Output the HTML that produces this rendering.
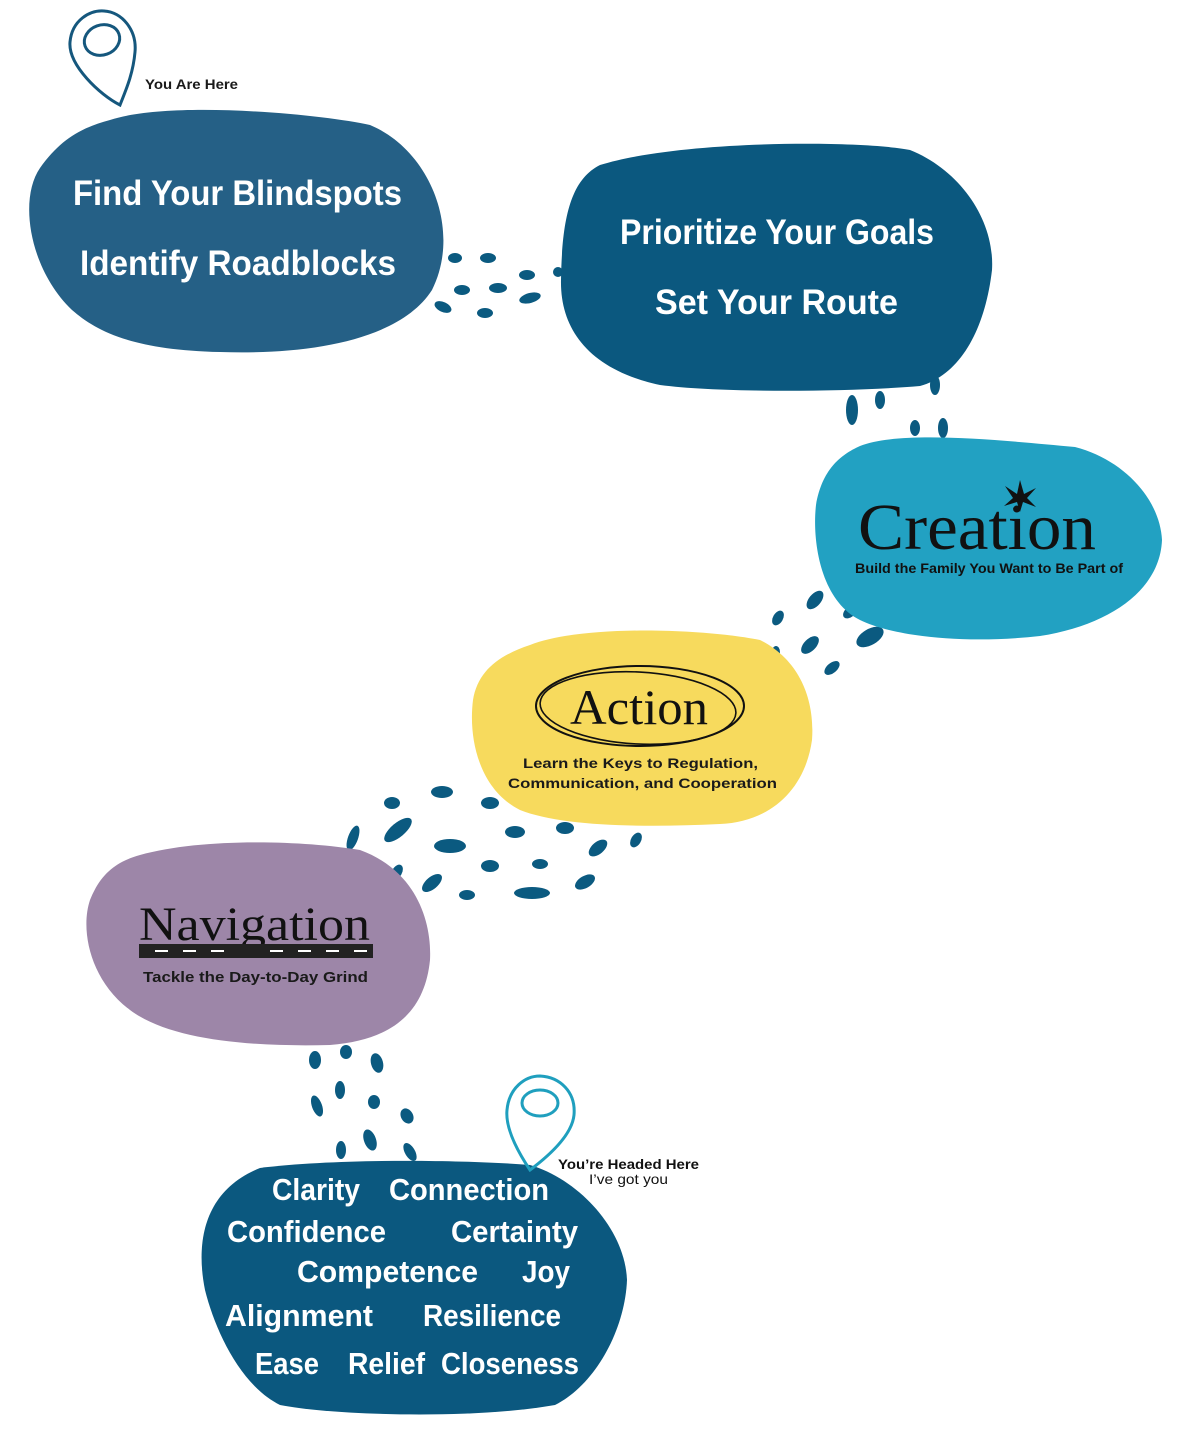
<!DOCTYPE html>
<html><head><meta charset="utf-8"><style>
html,body{margin:0;padding:0;background:#fff;}
svg{display:block;}
.h{font-family:"Liberation Sans",sans-serif;font-weight:bold;fill:#fff;}
.s{font-family:"Liberation Serif",serif;fill:#111;}
.b{font-family:"Liberation Sans",sans-serif;font-weight:bold;fill:#1a1a1a;}
</style></head><body>
<svg width="1200" height="1432" viewBox="0 0 1200 1432" xmlns="http://www.w3.org/2000/svg">
<g fill="#0b5a80">
<ellipse cx="455" cy="258" rx="7" ry="5"/><ellipse cx="488" cy="258" rx="8" ry="5"/><ellipse cx="527" cy="275" rx="8" ry="5"/><ellipse cx="558" cy="272" rx="5" ry="5"/>
<ellipse cx="462" cy="290" rx="8" ry="5"/><ellipse cx="498" cy="288" rx="9" ry="5"/><ellipse cx="443" cy="307" rx="9" ry="5" transform="rotate(25 443 307)"/><ellipse cx="485" cy="313" rx="8" ry="5"/><ellipse cx="530" cy="298" rx="11" ry="5" transform="rotate(-15 530 298)"/>
<ellipse cx="852" cy="410" rx="6" ry="15"/><ellipse cx="880" cy="400" rx="5" ry="9"/><ellipse cx="935" cy="385" rx="5" ry="10"/><ellipse cx="915" cy="428" rx="5" ry="8"/><ellipse cx="943" cy="428" rx="5" ry="10"/>
<ellipse cx="778" cy="618" rx="5" ry="8" transform="rotate(30 778 618)"/><ellipse cx="815" cy="600" rx="6" ry="11" transform="rotate(40 815 600)"/><ellipse cx="850" cy="612" rx="5" ry="8" transform="rotate(50 850 612)"/><ellipse cx="810" cy="645" rx="6" ry="11" transform="rotate(45 810 645)"/><ellipse cx="870" cy="637" rx="8" ry="15" transform="rotate(60 870 637)"/><ellipse cx="832" cy="668" rx="5" ry="9" transform="rotate(50 832 668)"/><ellipse cx="776" cy="652" rx="4" ry="6"/>
<ellipse cx="392" cy="803" rx="8" ry="6"/><ellipse cx="442" cy="792" rx="11" ry="6"/><ellipse cx="490" cy="803" rx="9" ry="6"/><ellipse cx="353" cy="838" rx="5" ry="13" transform="rotate(20 353 838)"/><ellipse cx="398" cy="830" rx="7" ry="17" transform="rotate(50 398 830)"/><ellipse cx="450" cy="846" rx="16" ry="7"/><ellipse cx="515" cy="832" rx="10" ry="6"/><ellipse cx="565" cy="828" rx="9" ry="6"/><ellipse cx="598" cy="848" rx="6" ry="11" transform="rotate(50 598 848)"/><ellipse cx="636" cy="840" rx="5" ry="8" transform="rotate(30 636 840)"/><ellipse cx="397" cy="872" rx="5" ry="8" transform="rotate(30 397 872)"/><ellipse cx="432" cy="883" rx="6" ry="12" transform="rotate(50 432 883)"/><ellipse cx="490" cy="866" rx="9" ry="6"/><ellipse cx="540" cy="864" rx="8" ry="5"/><ellipse cx="585" cy="882" rx="6" ry="11" transform="rotate(60 585 882)"/><ellipse cx="467" cy="895" rx="8" ry="5"/><ellipse cx="532" cy="893" rx="18" ry="6"/>
<ellipse cx="315" cy="1060" rx="6" ry="9"/><ellipse cx="346" cy="1052" rx="6" ry="7"/><ellipse cx="377" cy="1063" rx="6" ry="10" transform="rotate(-15 377 1063)"/><ellipse cx="340" cy="1090" rx="5" ry="9"/><ellipse cx="374" cy="1102" rx="6" ry="7"/><ellipse cx="407" cy="1116" rx="6" ry="8" transform="rotate(-30 407 1116)"/><ellipse cx="317" cy="1106" rx="5" ry="11" transform="rotate(-20 317 1106)"/><ellipse cx="370" cy="1140" rx="6" ry="11" transform="rotate(-20 370 1140)"/><ellipse cx="341" cy="1150" rx="5" ry="9"/><ellipse cx="410" cy="1152" rx="5" ry="10" transform="rotate(-30 410 1152)"/>
</g>
<!-- blobs -->
<path fill="#256086" d="M110,120 C170,100 320,114 370,125 C430,150 462,230 432,290 C400,340 310,355 220,352 C130,350 95,330 72,310 C30,270 18,200 40,168 C60,140 80,128 110,120 Z"/>
<path fill="#0b587f" d="M600,165 C680,140 860,140 910,150 C960,170 995,220 992,270 C985,330 960,375 920,386 C850,392 720,393 660,385 C590,370 560,330 561,280 C562,220 570,180 600,165 Z"/>
<path fill="#22a1c2" d="M860,446 C900,430 1000,440 1075,447 C1125,460 1160,500 1162,540 C1160,590 1110,625 1040,636 C960,645 890,635 860,620 C820,600 812,540 816,505 C822,470 840,455 860,446 Z"/>
<path fill="#f7da5d" d="M530,645 C580,625 700,628 760,640 C800,660 815,700 812,740 C805,790 770,822 720,824 C640,828 560,826 520,810 C480,790 468,740 473,700 C478,670 500,655 530,645 Z"/>
<path fill="#9d86a8" d="M140,855 C200,838 300,840 360,850 C415,870 432,920 430,960 C425,1010 395,1040 330,1045 C250,1047 170,1040 130,1010 C90,980 80,930 90,900 C100,875 115,862 140,855 Z"/>
<path fill="#0b587f" d="M260,1168 C340,1158 470,1160 530,1165 C580,1180 625,1230 627,1280 C625,1330 595,1385 555,1405 C470,1420 330,1415 280,1405 C240,1385 215,1330 205,1290 C195,1240 205,1190 260,1168 Z"/>
<!-- pins -->
<path d="M120,105 C100,95 68,65 70,42 C72,20 90,10 104,11 C122,12 137,30 135,52 C133,75 125,92 120,105 Z" fill="none" stroke="#15577d" stroke-width="3"/>
<ellipse cx="102" cy="40" rx="18" ry="15" fill="none" stroke="#15577d" stroke-width="3" transform="rotate(-20 102 40)"/>
<path d="M530,1170 C520,1155 505,1130 507,1110 C509,1088 525,1076 540,1076 C560,1077 576,1092 574,1115 C572,1135 550,1155 530,1170 Z" fill="none" stroke="#1f9fbe" stroke-width="3"/>
<ellipse cx="540" cy="1103" rx="18" ry="13" fill="none" stroke="#1f9fbe" stroke-width="3"/>
<!-- text -->
<text class="b" x="145" y="89" font-size="14" textLength="93" lengthAdjust="spacingAndGlyphs">You Are Here</text>
<text class="h" x="73" y="205" font-size="35" textLength="329" lengthAdjust="spacingAndGlyphs">Find Your Blindspots</text>
<text class="h" x="80" y="275" font-size="35" textLength="316" lengthAdjust="spacingAndGlyphs">Identify Roadblocks</text>
<text class="h" x="620" y="244" font-size="35" textLength="314" lengthAdjust="spacingAndGlyphs">Prioritize Your Goals</text>
<text class="h" x="655" y="314" font-size="35" textLength="243" lengthAdjust="spacingAndGlyphs">Set Your  Route</text>
<text class="s" x="858" y="549" font-size="66" textLength="238" lengthAdjust="spacingAndGlyphs">Creation</text>
<path d="M1020,480 L1024,494 L1036,488 L1027,498 L1036,507 L1023,502 L1020,512 L1017,502 L1004,506 L1013,498 L1005,486 L1017,494 Z" fill="#111"/>
<text class="b" x="855" y="573" font-size="14" textLength="268" lengthAdjust="spacingAndGlyphs" style="fill:#111">Build the Family You Want to Be Part of</text>
<ellipse cx="640" cy="706" rx="104" ry="40" fill="none" stroke="#111" stroke-width="2"/>
<ellipse cx="638" cy="708" rx="98" ry="36" fill="none" stroke="#111" stroke-width="1.6" transform="rotate(3 638 708)"/>
<text class="s" x="570" y="724" font-size="50" textLength="138" lengthAdjust="spacingAndGlyphs">Action</text>
<text class="b" x="523" y="768" font-size="14" textLength="235" lengthAdjust="spacingAndGlyphs">Learn the Keys to Regulation,</text>
<text class="b" x="508" y="788" font-size="14" textLength="269" lengthAdjust="spacingAndGlyphs">Communication, and Cooperation</text>
<text class="s" x="139" y="940" font-size="48" textLength="231" lengthAdjust="spacingAndGlyphs">Navigation</text>
<rect x="139" y="944" width="234" height="14" fill="#222"/>
<g stroke="#fff" stroke-width="2"><line x1="155" y1="951" x2="168" y2="951"/><line x1="183" y1="951" x2="196" y2="951"/><line x1="211" y1="951" x2="224" y2="951"/><line x1="270" y1="951" x2="283" y2="951"/><line x1="298" y1="951" x2="311" y2="951"/><line x1="326" y1="951" x2="339" y2="951"/><line x1="354" y1="951" x2="367" y2="951"/></g>
<text class="b" x="143" y="982" font-size="15" textLength="225" lengthAdjust="spacingAndGlyphs">Tackle the Day-to-Day Grind</text>
<text class="b" x="558" y="1169" font-size="14" textLength="141" lengthAdjust="spacingAndGlyphs" style="fill:#111">You’re Headed Here</text>
<text x="589" y="1184" font-size="14" font-family="Liberation Sans,sans-serif" fill="#111" textLength="79" lengthAdjust="spacingAndGlyphs">I’ve got you</text>
<g class="h" font-size="31">
<text class="h" x="272" y="1200" textLength="88" lengthAdjust="spacingAndGlyphs">Clarity</text>
<text class="h" x="389" y="1200" textLength="160" lengthAdjust="spacingAndGlyphs">Connection</text>
<text class="h" x="227" y="1242" textLength="159" lengthAdjust="spacingAndGlyphs">Confidence</text>
<text class="h" x="451" y="1242" textLength="127" lengthAdjust="spacingAndGlyphs">Certainty</text>
<text class="h" x="297" y="1282" textLength="181" lengthAdjust="spacingAndGlyphs">Competence</text>
<text class="h" x="522" y="1282" textLength="48" lengthAdjust="spacingAndGlyphs">Joy</text>
<text class="h" x="225" y="1326" textLength="148" lengthAdjust="spacingAndGlyphs">Alignment</text>
<text class="h" x="423" y="1326" textLength="138" lengthAdjust="spacingAndGlyphs">Resilience</text>
<text class="h" x="255" y="1374" textLength="64" lengthAdjust="spacingAndGlyphs">Ease</text>
<text class="h" x="348" y="1374" textLength="77" lengthAdjust="spacingAndGlyphs">Relief</text>
<text class="h" x="441" y="1374" textLength="138" lengthAdjust="spacingAndGlyphs">Closeness</text>
</g>
</svg>
</body></html>
